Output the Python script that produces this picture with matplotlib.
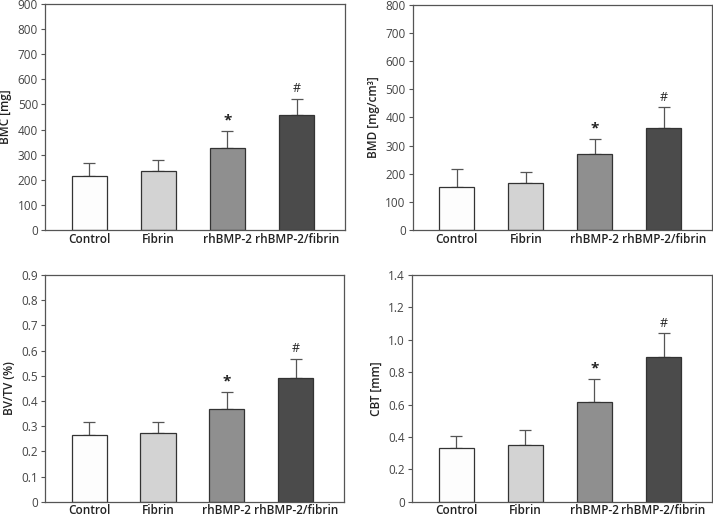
import numpy as np
import matplotlib.pyplot as plt

plt.rcParams['font.family'] = ['Open Sans', 'DejaVu Sans']

groups = ['Control', 'Fibrin', 'rhBMP-2', 'rhBMP-2/fibrin']
colors = ['#fdfdfd', '#d3d3d3', '#8f8f8f', '#4b4b4b']
marks = ['', '', '*', '#']

bmc = [213, 235, 327, 458]
bmc_err = [55, 43, 68, 65]
bmd = [152, 167, 270, 362]
bmd_err = [66, 40, 55, 75]
bvtv = [0.265, 0.272, 0.368, 0.490]
bvtv_err = [0.050, 0.045, 0.067, 0.077]
cbt = [0.333, 0.352, 0.618, 0.893]
cbt_err = [0.070, 0.093, 0.139, 0.147]

panels = [
    (bmc, bmc_err, 'BMC [mg]', 900, 100, ['0', '100', '200', '300', '400', '500', '600', '700', '800', '900'],
     [0.0631, 0.5543, 0.4208, 0.4380]),
    (bmd, bmd_err, 'BMD [mg/cm³]', 800, 100, ['0', '100', '200', '300', '400', '500', '600', '700', '800'],
     [0.5788, 0.5543, 0.4198, 0.4360]),
    (bvtv, bvtv_err, 'BV/TV (%)', 0.9, 0.1, ['0', '0.1', '0.2', '0.3', '0.4', '0.5', '0.6', '0.7', '0.8', '0.9'],
     [0.0631, 0.0277, 0.4194, 0.4394]),
    (cbt, cbt_err, 'CBT [mm]', 1.4, 0.2, ['0', '0.2', '0.4', '0.6', '0.8', '1.0', '1.2', '1.4'],
     [0.5778, 0.0277, 0.4208, 0.4394]),
]

fig = plt.figure(figsize=(7.13, 5.16), dpi=100)

for vals, errs, label, ymax, step, ticklabels, pos in panels:
    ax = fig.add_axes(pos)
    x = np.arange(len(groups))
    ax.bar(x, vals, width=0.51, color=colors, edgecolor='#333333', linewidth=0.9, zorder=2)
    ax.errorbar(x, vals, yerr=[np.zeros(len(vals)), errs], fmt='none', ecolor='#555555',
                elinewidth=0.9, capsize=4, capthick=0.9, zorder=1)
    for xi, v, e, m in zip(x, vals, errs, marks):
        if m:
            ax.text(xi, v + e + ymax * 0.015, m, ha='center', va='bottom',
                    fontsize=11 if m == '*' else 9, fontweight='bold' if m == '*' else 'normal',
                    color='#222222')
    ax.set_xlim(-0.64, 3.70)
    ax.set_ylim(0, ymax)
    ticks = np.arange(len(ticklabels)) * step
    ax.set_yticks(ticks)
    ax.set_yticklabels(ticklabels, fontsize=8.5, color='#444444')
    ax.set_xticks(x)
    ax.set_xticklabels(groups, fontsize=8.5, fontweight='semibold', color='#222222')
    ax.tick_params(axis='x', length=0, pad=2)
    ax.tick_params(axis='y', length=3, color='#555555', pad=2)
    ax.set_ylabel(label, fontsize=8.5, fontweight='semibold', color='#222222', labelpad=4)
    for s in ax.spines.values():
        s.set_color('#555555')
        s.set_linewidth(0.9)

plt.savefig('out.png', dpi=100)
